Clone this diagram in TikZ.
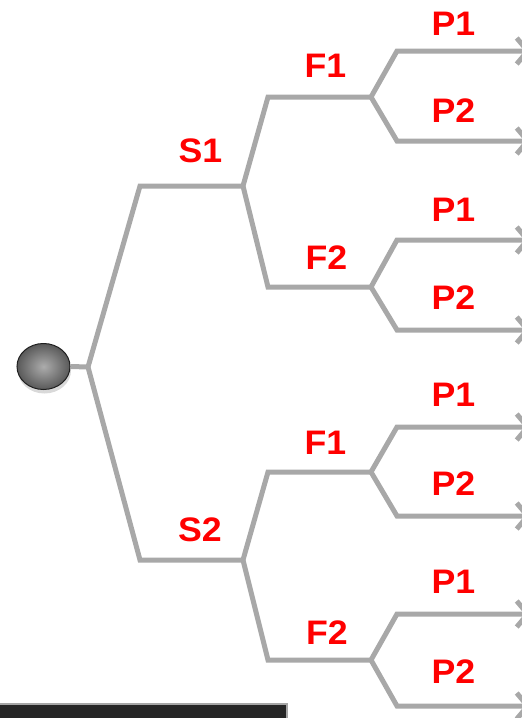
\documentclass[tikz,border=0pt]{standalone}
\usepackage{fontspec}
\setmainfont{Liberation Sans}
\usetikzlibrary{arrows.meta,shadows,shapes.geometric}
\definecolor{branch}{HTML}{A8A8A8}
\definecolor{lbl}{HTML}{FF0000}
\definecolor{boxfill}{HTML}{262626}
\tikzset{
  br/.style={draw=branch,line width=5pt,line join=miter},
  brarrow/.style={br,-{Straight Barb[length=11pt,width=26pt,line width=5pt]}},
  lab/.style={text=lbl,font=\fontsize{34}{40}\selectfont\bfseries,inner sep=0pt,xscale=1.05},
}
\begin{document}
\begin{tikzpicture}[x=1pt,y=-1pt]
\useasboundingbox (0,0) rectangle (522,718);
% root
\coordinate (j0) at (88,367);
\node[ellipse,minimum width=53pt,minimum height=46pt,inner sep=0pt,
      draw=gray!25!black,line width=1pt,
      shading=radial,inner color=gray!65,outer color=gray!70!black,
      drop shadow={shadow xshift=1pt,shadow yshift=-4pt,opacity=0.3,fill=gray}] (root) at (43.5,366.5) {};
\draw[br] (root.east) -- (j0);
% S level
\coordinate (s1a) at (140,186); \coordinate (s1j) at (243,186);
\coordinate (s2a) at (140,560); \coordinate (s2j) at (243,560);
\draw[br] (j0) -- (s1a) -- (s1j);
\draw[br] (j0) -- (s2a) -- (s2j);
% F level
\coordinate (f11a) at (268,97);  \coordinate (f11j) at (371,97);
\coordinate (f12a) at (268,287); \coordinate (f12j) at (371,287);
\coordinate (f21a) at (268,472); \coordinate (f21j) at (371,472);
\coordinate (f22a) at (268,660); \coordinate (f22j) at (371,660);
\draw[br] (s1j) -- (f11a) -- (f11j);
\draw[br] (s1j) -- (f12a) -- (f12j);
\draw[br] (s2j) -- (f21a) -- (f21j);
\draw[br] (s2j) -- (f22a) -- (f22j);
% P level
\foreach \f/\ya/\yb in {f11/51/141, f12/240/330, f21/427/516, f22/614/706}{
  \coordinate (\f p1a) at (397,\ya); \coordinate (\f p1e) at (531,\ya);
  \coordinate (\f p2a) at (397,\yb); \coordinate (\f p2e) at (531,\yb);
  \draw[brarrow] (\f j) -- (\f p1a) -- (\f p1e);
  \draw[brarrow] (\f j) -- (\f p2a) -- (\f p2e);
}
% labels
\node[lab] (ls1) at (200.5,150.5) {S1};
\node[lab] (ls2) at (200,530) {S2};
\node[lab] (lf11) at (325.5,65.5) {F1};
\node[lab] (lf12) at (326.5,258) {F2};
\node[lab] (lf21) at (325.5,443) {F1};
\node[lab] (lf22) at (327,632.5) {F2};
\foreach \y/\t [count=\i] in {23.5/P1,110.5/P2,210/P1,298/P2,395/P1,484/P2,582/P1,672/P2}{
  \node[lab] (lp\i) at (453.5,\y) {\t};
}
% bottom box (cut off)
\path[fill=boxfill,draw=gray!70,line width=2pt] (-2,704) rectangle (287,730);
\end{tikzpicture}
\end{document}
